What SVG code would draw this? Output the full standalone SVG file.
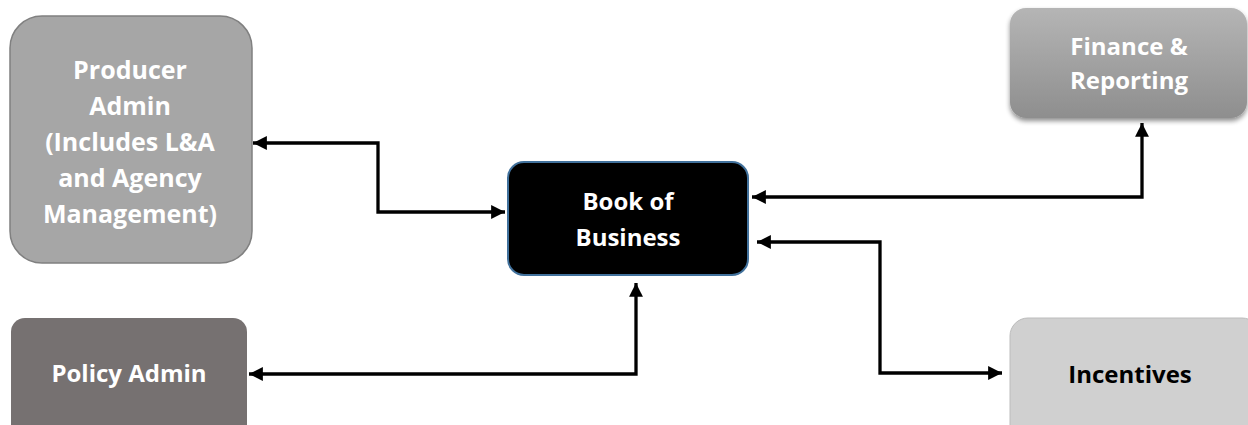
<svg xmlns="http://www.w3.org/2000/svg" width="1248" height="425" viewBox="0 0 1248 425">
<style>
text{font-family:"Open Sans","Liberation Sans",sans-serif;font-weight:700;font-size:24px;text-anchor:middle}
.big{font-size:25px}
.w{fill:#ffffff}
.k{fill:#000000}
.conn{fill:none;stroke:#000;stroke-width:3.3}
</style>
<defs>
<marker id="ah" viewBox="0 0 10 10" refX="10" refY="5" markerWidth="4.6" markerHeight="4.2" markerUnits="strokeWidth" orient="auto-start-reverse">
<path d="M0,0 L10,5 L0,10 z" fill="#000"/>
</marker>
<linearGradient id="gf" x1="0" y1="0" x2="0" y2="1">
<stop offset="0" stop-color="#b5b5b5"/>
<stop offset="1" stop-color="#8e8e8e"/>
</linearGradient>
<filter id="sh" x="-10%" y="-10%" width="120%" height="130%">
<feGaussianBlur in="SourceAlpha" stdDeviation="2.5"/>
<feOffset dx="0" dy="3" result="b"/>
<feComponentTransfer><feFuncA type="linear" slope="0.45"/></feComponentTransfer>
<feMerge><feMergeNode/><feMergeNode in="SourceGraphic"/></feMerge>
</filter>
</defs>
<g id="connectors">
<path class="conn" d="M253,143 H378 V212 H505" marker-start="url(#ah)" marker-end="url(#ah)"/>
<path class="conn" d="M752,197 H1142 V123" marker-start="url(#ah)" marker-end="url(#ah)"/>
<path class="conn" d="M757,242 H880 V373 H1002" marker-start="url(#ah)" marker-end="url(#ah)"/>
<path class="conn" d="M636,283 V374 H249" marker-start="url(#ah)" marker-end="url(#ah)"/>
</g>
<g id="producer-admin">
<rect x="10" y="16" width="242" height="247" rx="32" fill="#a6a6a6" stroke="#808080" stroke-width="1.5"/>
<text class="w big" x="130" y="79">Producer</text>
<text class="w big" x="130" y="115">Admin</text>
<text class="w big" x="130" y="151">(Includes L&amp;A</text>
<text class="w big" x="130" y="187">and Agency</text>
<text class="w big" x="130" y="223">Management)</text>
</g>
<g id="book-of-business">
<rect x="508" y="162" width="240" height="113" rx="16" fill="#000" stroke="#41719c" stroke-width="2"/>
<text class="w" x="628" y="210">Book of</text>
<text class="w" x="628" y="246">Business</text>
</g>
<g id="finance-reporting">
<rect x="1010" y="8" width="237" height="110" rx="16" fill="url(#gf)" filter="url(#sh)"/>
<text class="w" x="1129" y="55">Finance &amp;</text>
<text class="w" x="1129" y="89">Reporting</text>
</g>
<g id="policy-admin">
<rect x="11" y="318" width="236" height="130" rx="14" fill="#767171"/>
<text class="w" x="129" y="382">Policy Admin</text>
</g>
<g id="incentives">
<rect x="1010" y="318" width="250" height="130" rx="18" fill="#d0d0d0" stroke="#bcbcbc" stroke-width="1"/>
<text class="k" x="1130" y="383">Incentives</text>
</g>
</svg>
